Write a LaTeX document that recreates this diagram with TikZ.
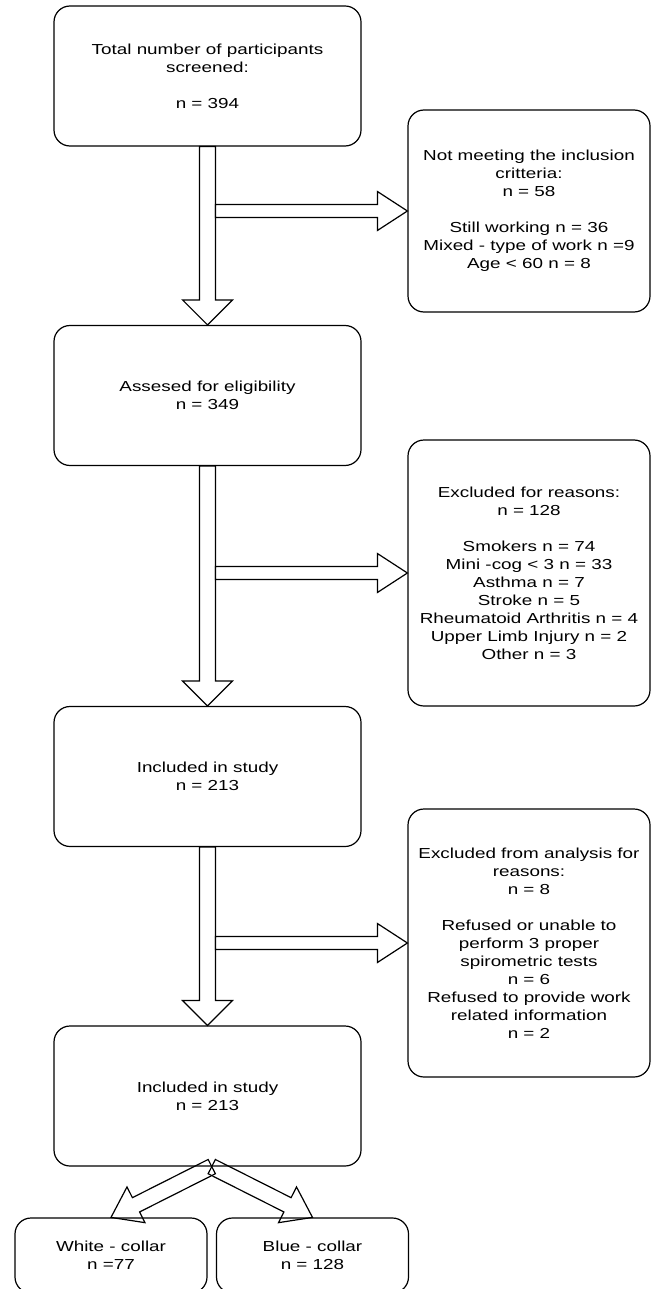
\documentclass[tikz,border=0pt]{standalone}
\usepackage{fontspec}
\setmainfont{Liberation Sans}[FakeStretch=1.3]
\usetikzlibrary{calc}
\tikzset{
    box/.style={draw, rounded corners=16, line width=1.2pt, inner sep=0pt, align=center, font=\fontsize{14.5}{18}\selectfont},
    mainbox/.style={box, minimum width=307, minimum height=140},
    sidebox/.style={box, minimum width=242},
    groupbox/.style={box, minimum width=192, minimum height=75},
    bigarrow/.style={draw, fill=white, line width=1.2pt, line join=miter}
}
\newcommand{\bigarrow}[6][]{%
    \coordinate (ba-s) at (#2);
    \coordinate (ba-t) at (#3);
    \coordinate (ba-h) at ($(ba-t)!#6!(ba-s)$);
    \draw[bigarrow,#1] ($(ba-s)!#4!90:(ba-t)$) -- ($(ba-h)!#4!-90:(ba-s)$) -- ($(ba-h)!#5!-90:(ba-s)$) -- (ba-t) -- ($(ba-h)!#5!90:(ba-s)$) -- ($(ba-h)!#4!90:(ba-s)$) -- ($(ba-s)!#4!-90:(ba-t)$) -- cycle;}
\begin{document}
\begin{tikzpicture}[x=1pt, y=-1pt]
    \useasboundingbox (0,0) rectangle (652,1289);
    \node (total) at (207.5,76) [mainbox] {Total number of participants\\screened:\\[18pt]n = 394};
    \node (notmeet) at (529,211) [sidebox, minimum height=202] {Not meeting the inclusion\\critteria:\\n = 58\\[18pt]Still working n = 36\\Mixed - type of work n =9\\Age < 60 n = 8};
    \node (assessed) at (207.5,395.5) [mainbox] {Assesed for eligibility\\n = 349};
    \node (excl) at (529,573) [sidebox, minimum height=266] {Excluded for reasons:\\n = 128\\[18pt]Smokers n = 74\\Mini -cog < 3 n = 33\\Asthma n = 7\\Stroke n = 5\\Rheumatoid Arthritis n = 4\\Upper Limb Injury n = 2\\Other n = 3};
    \node (incl) at (207.5,776.5) [mainbox] {Included in study\\n = 213};
    \node (exclan) at (529,943) [sidebox, minimum height=268] {Excluded from analysis for\\reasons:\\n = 8\\[18pt]Refused or unable to\\perform 3 proper\\spirometric tests\\n = 6\\Refused to provide work\\related information\\n = 2};
    \node (final) at (207.5,1096) [mainbox] {Included in study\\n = 213};
    \node (white) at (111,1255.5) [groupbox] {White - collar\\n =77};
    \node (blue) at (312.5,1255.5) [groupbox] {Blue - collar\\n = 128};
    \bigarrow{total.south}{assessed.north}{8pt}{25pt}{25pt}
    \bigarrow{$(total.south |- notmeet.west)+(8,0)$}{notmeet.west}{6.5pt}{19.5pt}{30pt}
    \bigarrow{assessed.south}{incl.north}{8pt}{25pt}{25pt}
    \bigarrow{$(assessed.south |- excl.west)+(8,0)$}{excl.west}{6.5pt}{19.5pt}{30pt}
    \bigarrow{incl.south}{final.north}{8pt}{25pt}{25pt}
    \bigarrow{$(incl.south |- exclan.west)+(8,0)$}{exclan.west}{6.5pt}{19.5pt}{30pt}
    \coordinate (mid) at ($(white.north)!0.5!(blue.north)$);
    \coordinate (split) at (mid |- final.south);
    \bigarrow[fill=none]{split}{white.north}{8pt}{20pt}{28pt}
    \bigarrow[fill=none]{split}{blue.north}{8pt}{20pt}{28pt}
\end{tikzpicture}
\end{document}
